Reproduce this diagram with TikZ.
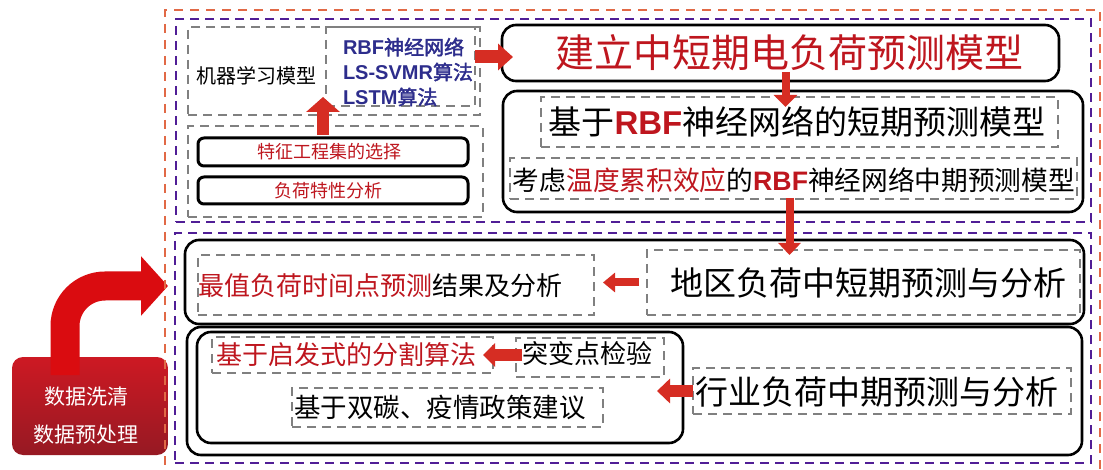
\documentclass[tikz,border=0pt]{standalone}
\usepackage{fontspec}
\setmainfont{Noto Sans CJK SC}
\newfontfamily\cjkb{Noto Sans CJK SC}[FakeBold=2]
\newfontfamily\lat{Liberation Sans}
\usetikzlibrary{arrows.meta,fit,calc}
\definecolor{dred}{RGB}{190,22,30}
\definecolor{tblue}{RGB}{45,45,140}
\definecolor{purp}{RGB}{80,30,150}
\definecolor{oran}{RGB}{225,105,70}
\definecolor{gdash}{RGB}{128,128,128}
\definecolor{arrc}{RGB}{214,45,35}
\definecolor{bigarr}{RGB}{218,12,16}
\definecolor{boxtop}{RGB}{205,25,35}
\definecolor{boxbot}{RGB}{150,25,35}
\newcommand\myfs[1]{\fontsize{#1pt}{#1pt}\selectfont}
\newcommand\myRBF{{\lat\bfseries\color{dred}RBF}}
\begin{document}
\begin{tikzpicture}[x=1pt,y=-1pt,
  gbox/.style={draw=gdash, line width=2pt, dash pattern=on 9pt off 6pt, inner sep=0pt, outer sep=0pt},
  pbox/.style={draw=purp, line width=2.4pt, dash pattern=on 9pt off 6pt, inner sep=0pt, outer sep=0pt},
  obox/.style={draw=oran, line width=2pt, dash pattern=on 9pt off 7pt, inner sep=0pt, outer sep=0pt},
  bbox/.style={draw=black, line width=2.6pt, rounded corners=14pt, inner sep=0pt, outer sep=0pt},
  sbox/.style={draw=black, line width=3pt, rounded corners=6pt, inner sep=0pt, outer sep=0pt},
  txt/.style={inner sep=0pt, outer sep=0pt},
  barrow/.style={draw=arrc, line width=#1},
]
\useasboundingbox (0,0) rectangle (1103,470);
\fill[white] (0,0) rectangle (1103,470);

% left red box and big arrow
\node[fit={(12,357) (168,455)}, rounded corners=11pt, top color=boxtop, bottom color=boxbot, inner sep=0pt, outer sep=0pt] (clean) {};
\coordinate (dtip) at (168,286);
\draw[draw=bigarr, line width=29pt, rounded corners=40pt, -{Triangle[length=27pt,width=58pt]}]
  ($(clean.north)+(-25,18)$) |- (dtip);
\node[txt, text=white, font=\myfs{21}] (cleant1) at (86,397) {数据洗清};
\node[txt, text=white, font=\myfs{21}] (cleant2) at (86,435) {数据预处理};

% frames
\node[obox, fit={(165,10) (1100,478)}] (oframe) {};
\node[pbox, fit={(176,19) (1091,222)}] (ptop) {};
\node[pbox, fit={(175,233) (1091,463)}] (pbot) {};

% machine learning part
\node[gbox, fit={(188,27) (480,115)}] (mlout) {};
\node[gbox, fit={(326,27) (475,106)}] (mlin) {};
\node[txt, font=\myfs{20}] (mlt) at (256,76) {机器学习模型};
\node[txt, anchor=west, text=tblue, font=\myfs{20}] (b1) at (343,47) {{\lat\bfseries RBF}{\cjkb 神经网络}};
\node[txt, anchor=west, text=tblue, font=\myfs{20}] (b2) at (343,72) {{\lat\bfseries LS-SVMR}{\cjkb 算法}};
\node[txt, anchor=west, text=tblue, font=\myfs{20}] (b3) at (343,97) {{\lat\bfseries LSTM}{\cjkb 算法}};

\node[gbox, fit={(188,126) (483,217)}] (featbox) {};
\node[sbox, fit={(198,138) (468,166)}] (feat) {};
\node[txt, text=dred, font=\myfs{18}] (featt) at (329,152) {特征工程集的选择};
\node[sbox, fit={(198,177) (468,204)}] (loadn) {};
\node[txt, text=dred, font=\myfs{18}] (loadt) at (328,190.5) {负荷特性分析};

% model building
\node[bbox, fit={(502,25) (1059,81)}] (build) {};
\node[txt, text=dred, font=\myfs{39}] (buildt) at (789,53) {建立中短期电负荷预测模型};
\node[bbox, fit={(503,91) (1083,212)}] (rbfbig) {};
\node[gbox, fit={(541,97) (1058,147)}] (rbfg) {};
\node[txt, font=\myfs{33}] (rbft) at (797,122) {基于\myRBF 神经网络的短期预测模型};
\node[gbox, fit={(510,158) (1077,199)}] (midg) {};
\node[txt, font=\myfs{26.7}] (midt) at (794,180) {考虑{\color{dred}温度累积效应}的\myRBF 神经网络中期预测模型};

% regional
\node[bbox, fit={(185,240) (1084,324)}] (regbox) {};
\node[gbox, fit={(198,255) (594,315)}] (maxg) {};
\node[txt, anchor=west, font=\myfs{26}] (maxt) at (198,286) {{\color{dred}最值负荷时间点预测}结果及分析};
\node[gbox, fit={(647,250) (1080,315)}] (regg) {};
\node[txt, font=\myfs{33}] (regt) at (868,283) {地区负荷中短期预测与分析};

% industrial
\node[bbox, fit={(187,327) (1082,455)}] (indbox) {};
\node[bbox, fit={(197,332) (683,443)}] (indin) {};
\node[gbox, fit={(212,337) (493,373)}] (qifag) {};
\node[txt, anchor=west, text=dred, font=\myfs{26}] (qifat) at (216,355) {基于启发式的分割算法};
\node[gbox, fit={(516,338) (664,377)}] (tubg) {};
\node[txt, anchor=west, font=\myfs{26}] (tubt) at (522,354) {突变点检验};
\node[gbox, fit={(292,388) (603,427)}] (stg) {};
\node[txt, anchor=west, font=\myfs{26.5}] (stt) at (294,407) {基于双碳、疫情政策建议};
\node[gbox, fit={(693,368) (1071,414)}] (hyg) {};
\node[txt, anchor=west, font=\myfs{33}] (hyt) at (695,392) {行业负荷中期预测与分析};

% arrows
\draw[barrow=12pt, -{Triangle[length=15pt,width=33pt]}]
  ($(feat.north -| mlin.west)+(-3,-3)$) -- ($(mlin.south west)+(-3,-9)$);
\draw[barrow=13pt, -{Triangle[length=15pt,width=26pt]}]
  ($(mlin.east |- build.west)+(0,4)$) -- ($(build.west)+(11,4)$);
\draw[barrow=8pt, -{Triangle[length=12pt,width=23pt]}]
  ($(build.south)+(5,-9)$) -- ($(build.south |- rbfg.north)+(5,10)$);
\draw[barrow=8pt, -{Triangle[length=12pt,width=22pt]}]
  ($(midg.south)+(-4,-1)$) -- ($(midg.south |- regg.north)+(-4,5)$);
\draw[barrow=8pt, -{Triangle[length=12pt,width=19pt]}]
  ($(regg.west)+(-8,0)$) -- ($(maxg.east |- regg.west)+(9,0)$);
\draw[barrow=12pt, -{Triangle[length=12pt,width=23pt]}]
  ($(tubg.west |- qifag.east)+(6,0)$) -- ($(qifag.east)+(-10,0)$);
\draw[barrow=12pt, -{Triangle[length=13pt,width=24pt]}]
  (hyg.west) -- ($(indin.east |- hyg.west)+(-26,0)$);
\end{tikzpicture}
\end{document}
